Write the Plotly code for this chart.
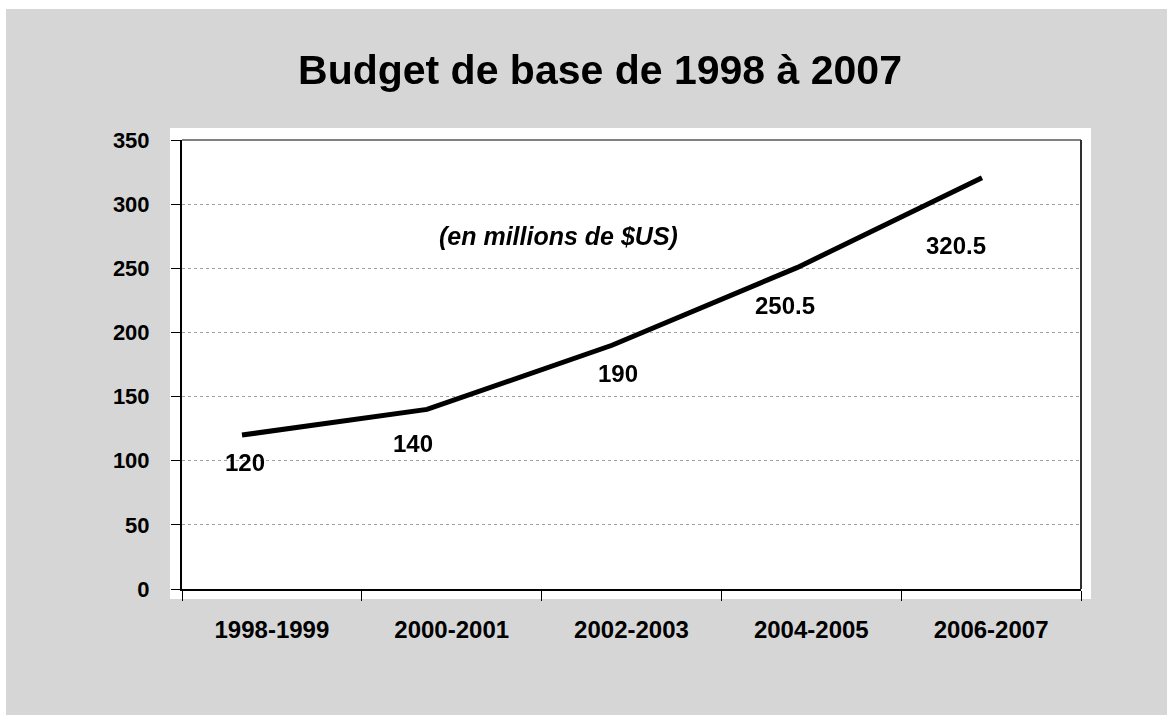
import plotly.graph_objects as go

categories = ["1998-1999", "2000-2001", "2002-2003", "2004-2005", "2006-2007"]
budget = [120, 140, 190, 250.5, 320.5]
y_ticks = [0, 50, 100, 150, 200, 250, 300, 350]
title_text = "Budget de base de 1998 à 2007"
subtitle_text = "(en millions de $US)"

# label offsets (style only)
label_xshift = [3, -14, 6, -12, -26]
label_yshift = [-27, -34, -28, -38, -68]

W, H = 1167, 715
L, R, T, B = 182, 86, 140, 126
pw, ph = W - L - R, H - T - B

def px(x):
    return (x - L) / pw

def py(y):
    return (H - B - y) / ph

FONT = "Arial, Liberation Sans, sans-serif"

fig = go.Figure()

# invisible trace to establish category axis
fig.add_trace(go.Scatter(x=categories, y=budget, mode="markers", opacity=0,
                         hoverinfo="skip", showlegend=False, xaxis="x", yaxis="y"))
# visible line on linear overlay axis
fig.add_trace(go.Scatter(x=list(range(len(budget))), y=budget, mode="lines",
                         line=dict(color="black", width=5), showlegend=False,
                         xaxis="x2", yaxis="y"))

shapes = [
    dict(type="rect", xref="paper", yref="paper", x0=px(6), x1=px(W + 5), y0=py(H + 5), y1=py(9),
         fillcolor="#d6d6d6", line=dict(width=0), layer="below"),
    dict(type="rect", xref="paper", yref="paper", x0=px(170), x1=px(1091), y0=py(599), y1=py(128),
         fillcolor="white", line=dict(width=0), layer="below"),
    dict(type="line", xref="paper", yref="paper", x0=0, x1=1, y0=1, y1=1,
         line=dict(color="#808080", width=2), layer="above"),
    dict(type="line", xref="paper", yref="paper", x0=1, x1=1, y0=0, y1=1,
         line=dict(color="#303030", width=2), layer="above"),
]

annotations = [
    dict(text=subtitle_text, xref="paper", yref="paper", x=px(558), y=py(236),
         showarrow=False, font=dict(family=FONT, size=25, color="black", weight="bold", style="italic"),
         xanchor="center", yanchor="middle"),
]
for i, v in enumerate(budget):
    annotations.append(dict(text=f"{v:g}", xref="x2", yref="y", x=i, y=v, showarrow=False,
                            xshift=label_xshift[i], yshift=label_yshift[i],
                            font=dict(family=FONT, size=24, color="black", weight="bold"),
                            xanchor="center", yanchor="middle"))

x2_lo = (L - 242) / 185.0
x2_hi = (L + pw - 242) / 185.0

fig.update_layout(
    width=W, height=H,
    margin=dict(l=L, r=R, t=T, b=B),
    paper_bgcolor="white",
    plot_bgcolor="white",
    title=dict(text=title_text, x=600 / W, xref="container", xanchor="center",
               y=1 - 70 / H, yref="container", yanchor="middle",
               font=dict(family=FONT, size=41, color="black", weight="bold")),
    xaxis=dict(type="category", categoryorder="array", categoryarray=categories,
               range=[-0.5, len(categories) - 0.5], tickson="boundaries",
               ticks="outside", ticklen=10, tickwidth=1, tickcolor="black",
               showline=True, linecolor="black", linewidth=2, showgrid=False,
               ticklabelstandoff=18,
               tickfont=dict(family=FONT, size=24, color="black", weight="bold")),
    xaxis2=dict(overlaying="x", range=[x2_lo, x2_hi], visible=False, showgrid=False),
    yaxis=dict(range=[0, 350], tickvals=y_ticks, ticks="outside", ticklen=9,
               tickwidth=1, tickcolor="black", showline=True, linecolor="black",
               linewidth=2, showgrid=True, gridcolor="#a0a0a0", gridwidth=1,
               griddash="3px,3px", zeroline=False, ticklabelstandoff=17,
               tickfont=dict(family=FONT, size=22, color="black", weight="bold")),
    shapes=shapes,
    annotations=annotations,
)

fig.write_html("out.html")
